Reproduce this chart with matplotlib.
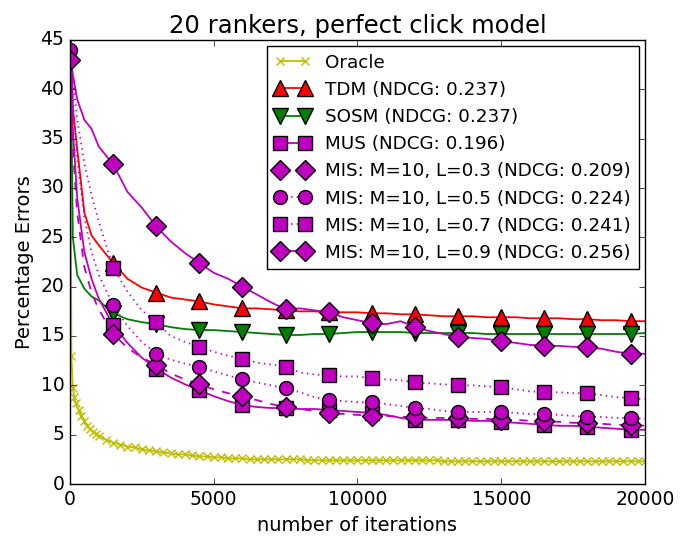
import numpy as np
import matplotlib
matplotlib.use('Agg')
import matplotlib.pyplot as plt

plt.style.use('classic')

# iteration grid for the learning curves
iters = [0, 100, 250, 500, 750, 1000] + list(range(1500, 20001, 500))

tdm = [50, 38, 34, 27.5, 25.2, 24.2, 22.4, 20.8, 19.9, 19.4, 18.9, 18.7, 18.5, 18.2, 18.0,
       17.8, 17.8, 17.7, 17.6, 17.5, 17.5, 17.4, 17.4, 17.4, 17.3, 17.3, 17.2, 17.2, 17.1,
       17.0, 17.0, 17.0, 16.9, 16.9, 16.9, 16.8, 16.8, 16.8, 16.7, 16.7, 16.6, 16.6, 16.5, 16.5]
sosm = [50, 25, 21.2, 19.8, 19.0, 18.6, 17.3, 16.7, 16.4, 16.2, 15.9, 15.7, 15.6, 15.6, 15.5,
        15.4, 15.3, 15.2, 15.1, 15.1, 15.2, 15.2, 15.3, 15.4, 15.4, 15.4, 15.4, 15.3, 15.3,
        15.3, 15.3, 15.3, 15.2, 15.2, 15.2, 15.2, 15.2, 15.2, 15.2, 15.2, 15.2, 15.2, 15.2, 15.3]
mus = [50, 36, 29, 23.5, 20.8, 18.8, 16.1, 14.3, 12.8, 11.7, 10.8, 10.1, 9.5, 8.9, 8.4,
       8.0, 7.8, 7.7, 7.7, 7.6, 7.6, 7.5, 7.4, 7.3, 7.2, 7.0, 6.7, 6.5, 6.5,
       6.5, 6.5, 6.4, 6.4, 6.3, 6.2, 6.1, 6.0, 5.9, 5.9, 5.8, 5.7, 5.6, 5.5, 5.5]
mis_03 = [50, 34, 27.5, 22.0, 19.4, 17.7, 15.2, 13.8, 12.8, 12.1, 11.2, 10.6, 10.1, 9.6, 9.2,
          8.9, 8.5, 8.1, 7.8, 7.6, 7.4, 7.2, 7.1, 7.0, 6.9, 6.9, 6.8, 6.8, 6.7,
          6.7, 6.7, 6.6, 6.6, 6.5, 6.5, 6.4, 6.4, 6.3, 6.2, 6.2, 6.1, 6.0, 6.0, 5.9]
mis_05 = [44, 39, 33, 27, 23.5, 21.2, 18.1, 16.0, 14.4, 13.2, 12.6, 12.2, 11.9, 11.4, 11.0,
          10.6, 10.3, 10.0, 9.7, 9.3, 8.8, 8.5, 8.4, 8.3, 8.3, 8.1, 7.9, 7.7, 7.6,
          7.4, 7.3, 7.3, 7.3, 7.3, 7.2, 7.1, 7.1, 7.0, 6.9, 6.8, 6.8, 6.7, 6.7, 6.6]
mis_07 = [50, 41, 37, 32.5, 29.3, 26.6, 21.9, 19.5, 17.6, 16.4, 15.0, 14.4, 13.9, 13.4, 13.0,
          12.7, 12.3, 12.1, 11.9, 11.3, 11.1, 11.0, 10.9, 10.9, 10.7, 10.6, 10.5, 10.3, 10.2,
          10.1, 10.0, 10.0, 9.9, 9.8, 9.6, 9.4, 9.3, 9.3, 9.2, 9.2, 9.0, 8.8, 8.7, 8.6]
mis_09 = [43.0, 41.5, 39.0, 36.9, 36.0, 34.2, 32.4, 29.6, 28.0, 26.1, 24.6, 23.4, 22.4, 21.4, 20.8,
          20.0, 19.2, 18.4, 17.7, 17.8, 17.6, 17.4, 16.9, 16.6, 16.3, 16.2, 16.5, 15.9, 15.5,
          15.2, 14.9, 14.8, 14.7, 14.5, 14.3, 14.1, 14.0, 14.0, 13.9, 13.9, 13.7, 13.4, 13.2, 13.2]

# oracle is logged more densely
oracle_iters = [0, 50, 100, 150, 200, 300, 400, 500, 600, 700, 800, 900, 1000, 1250, 1500] + \
    list(range(1750, 20001, 250))
oracle = [50, 13.0, 9.7, 8.8, 8.2, 7.5, 6.9, 6.4, 5.9, 5.6, 5.3, 5.1, 4.9, 4.5, 4.2,
          4.0, 3.8, 3.7, 3.5, 3.4, 3.3, 3.2, 3.1, 3.0, 3.0, 2.9, 2.8, 2.8, 2.7, 2.7,
          2.6, 2.6, 2.6, 2.5, 2.5, 2.5, 2.5, 2.5, 2.5, 2.5, 2.5, 2.4, 2.4, 2.4, 2.4,
          2.4, 2.4, 2.4, 2.4, 2.4, 2.4, 2.4, 2.4, 2.4, 2.4, 2.4, 2.4, 2.4, 2.4, 2.4,
          2.3, 2.3, 2.3, 2.3, 2.3, 2.3, 2.3, 2.3, 2.3, 2.3, 2.3, 2.3, 2.3, 2.3, 2.3,
          2.3, 2.3, 2.3, 2.3, 2.3, 2.3, 2.3, 2.3, 2.3, 2.3, 2.3, 2.3, 2.3, 2.3]

labels = ['Oracle',
          'TDM (NDCG: 0.237)',
          'SOSM (NDCG: 0.237)',
          'MUS (NDCG: 0.196)',
          'MIS: M=10, L=0.3 (NDCG: 0.209)',
          'MIS: M=10, L=0.5 (NDCG: 0.224)',
          'MIS: M=10, L=0.7 (NDCG: 0.241)',
          'MIS: M=10, L=0.9 (NDCG: 0.256)']

# markers only every 1500 iterations
marks = [i for i, x in enumerate(iters) if x % 1500 == 0]

fig = plt.figure(figsize=(6.82, 5.4), dpi=100)
ax = fig.add_axes([0.1026, 0.1037, 0.8431, 0.8223])

lw = 1.3
ax.plot(oracle_iters, oracle, 'y-x', ms=6, mew=1, lw=lw, label=labels[0])
ax.plot(iters, tdm, 'r-^', ms=11, mew=1, lw=lw, markevery=marks, label=labels[1])
ax.plot(iters, sosm, 'g-v', ms=11, mew=1, lw=lw, markevery=marks, label=labels[2])
ax.plot(iters, mus, 'm-s', ms=10, mew=1, lw=lw, markevery=marks, label=labels[3])
ax.plot(iters, mis_03, 'm--D', ms=10, mew=1, lw=lw, markevery=marks, label=labels[4])
ax.plot(iters, mis_05, 'm:o', ms=10, mew=1, lw=lw, markevery=marks, label=labels[5])
ax.plot(iters, mis_07, 'm:s', ms=10, mew=1, lw=lw, markevery=marks, label=labels[6])
ax.plot(iters, mis_09, 'm-D', ms=10, mew=1, lw=lw, markevery=marks, label=labels[7])

ax.set_xlim(0, 20000)
ax.set_ylim(0, 45)
ax.set_xticks([0, 5000, 10000, 15000, 20000])
ax.set_yticks(range(0, 46, 5))
ax.tick_params(labelsize=13.5)
ax.set_xlabel('number of iterations', fontsize=14)
ax.set_ylabel('Percentage Errors', fontsize=14)
ax.set_title('20 rankers, perfect click model', fontsize=17.5)
ax.legend(loc='upper right', fontsize=13.2, numpoints=2, borderaxespad=0.35)

fig.savefig('out.png', dpi=100)
